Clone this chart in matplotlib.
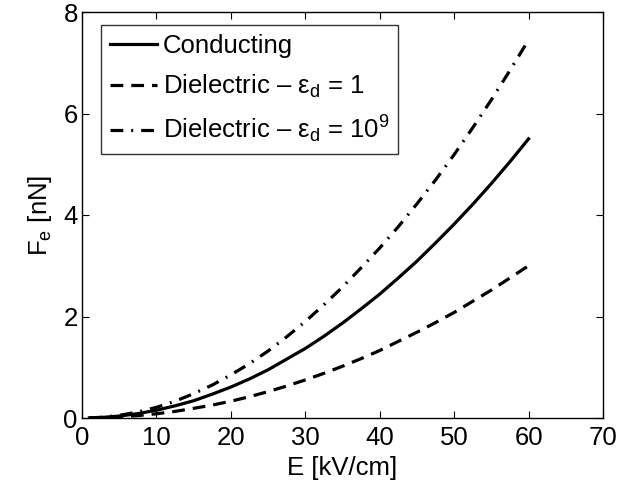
import matplotlib
matplotlib.use("Agg")
import matplotlib.pyplot as plt

plt.rcParams['font.family'] = ['Liberation Sans', 'DejaVu Sans']
plt.rcParams['mathtext.fontset'] = 'custom'
plt.rcParams['mathtext.rm'] = 'Liberation Sans'
plt.rcParams['mathtext.it'] = 'Liberation Sans'
plt.rcParams['mathtext.default'] = 'regular'

E = [1, 2.5, 5, 7.5, 10, 12.5, 15, 17.5, 20, 22.5, 25, 27.5, 30, 32.5, 35, 37.5,
     40, 42.5, 45, 47.5, 50, 52.5, 55, 57.5, 60]
conducting = [0.0015, 0.0095, 0.038, 0.086, 0.153, 0.24, 0.34, 0.47, 0.61, 0.77,
              0.95, 1.16, 1.37, 1.61, 1.87, 2.15, 2.44, 2.76, 3.09, 3.45, 3.82,
              4.21, 4.62, 5.05, 5.5]
diel_1 = [0.0008, 0.0052, 0.021, 0.047, 0.083, 0.13, 0.19, 0.255, 0.33, 0.42,
          0.52, 0.63, 0.75, 0.88, 1.02, 1.17, 1.33, 1.51, 1.69, 1.88, 2.08,
          2.30, 2.52, 2.76, 3.0]
diel_1e9 = [0.002, 0.013, 0.052, 0.118, 0.21, 0.33, 0.48, 0.65, 0.85, 1.07,
            1.32, 1.60, 1.90, 2.23, 2.58, 2.96, 3.35, 3.77, 4.22, 4.69, 5.19,
            5.72, 6.27, 6.85, 7.45]

labels = ['Conducting', r'Dielectric – $\varepsilon_d$ = 1', r'Dielectric – $\varepsilon_d$ = 10$^9$']
xticks = [0, 10, 20, 30, 40, 50, 60, 70]
yticks = [0, 2, 4, 6, 8]

fig = plt.figure(figsize=(6.44, 4.82), dpi=100)
ax = fig.add_axes([82/644, 1-418/482, (603-82)/644, (418-12)/482])

ax.plot(E, conducting, '-', color='black', lw=2.3, label=labels[0])
ax.plot(E, diel_1, '--', color='black', lw=2.3, dashes=(4, 2.5), label=labels[1])
ax.plot(E, diel_1e9, '-.', color='black', lw=2.3, dashes=(4, 2.5, 0.6, 2.5), label=labels[2])

ax.set_xlim(0, 70)
ax.set_ylim(0, 8)
ax.set_xticks(xticks)
ax.set_yticks(yticks)
ax.tick_params(direction='in', length=5, width=0.8, labelsize=18.5, top=True, right=True)
ax.tick_params(axis='x', pad=6)
ax.tick_params(axis='y', pad=3)
for s in ax.spines.values():
    s.set_linewidth(1.0)
ax.set_xlabel('E [kV/cm]', fontsize=18.5, labelpad=4)
ax.set_ylabel(r'F$_e$ [nN]', fontsize=18.5, labelpad=7)

leg = ax.legend(loc='upper left', bbox_to_anchor=(0.036, 0.967), borderaxespad=0,
                fontsize=18.5, frameon=True, fancybox=False,
                edgecolor='black', handlelength=1.85, handletextpad=0.22,
                labelspacing=0.55, borderpad=0.35)
leg.get_frame().set_linewidth(1.0)

fig.savefig('out.png', dpi=100)
